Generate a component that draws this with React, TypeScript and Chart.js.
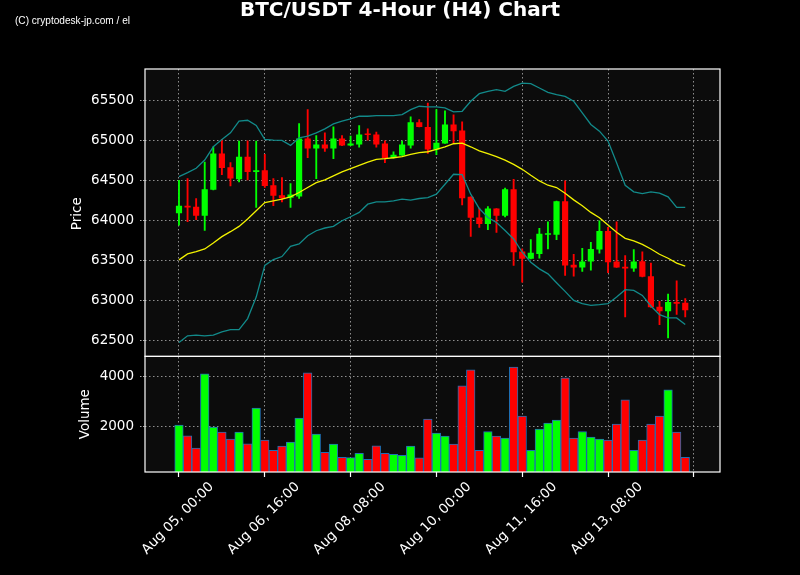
import React, { useEffect, useRef } from 'react';
import { Chart, registerables } from 'chart.js';
Chart.register(...registerables);

const titleText = 'BTC/USDT 4-Hour (H4) Chart';
const watermark = '(C) cryptodesk-jp.com / el';
const xTickLabels = ['Aug 05, 00:00', 'Aug 06, 16:00', 'Aug 08, 08:00', 'Aug 10, 00:00', 'Aug 11, 16:00', 'Aug 13, 08:00', ''];
const priceTicks = [62500, 63000, 63500, 64000, 64500, 65000, 65500];
const volumeTicks = [2000, 4000];

const opens = [64097, 64189, 64176, 64064, 64388, 64844, 64670, 64521, 64803, 64612,
  64633, 64446, 64321, 64288, 64305, 65031, 64907, 64956, 64907, 65031,
  64944, 64956, 65081, 65081, 64969, 64786, 64819, 64944, 65234, 65176,
  64894, 64969, 65206, 65131, 64301, 64043, 63960, 64155, 64064, 64396,
  63616, 63525, 63587, 63828, 63828, 64247, 63450, 63417, 63492, 63641,
  63873, 63492, 63425, 63404, 63496, 63309, 62927, 62869, 62985, 62977];
const highs = [64508, 64529, 64280, 64736, 64927, 65019, 64728, 64998, 65002, 64998,
  64832, 64529, 64541, 64467, 65218, 65392, 65068, 65102, 65176, 65068,
  65060, 65193, 65151, 65110, 65002, 64865, 64998, 65301, 65268, 65475,
  65392, 65376, 65326, 65239, 64301, 64160, 64180, 64155, 64410, 64521,
  63649, 63766, 63906, 63989, 64247, 64500, 63583, 63658, 63732, 64002,
  63919, 63989, 63566, 63641, 63612, 63471, 62994, 63085, 63251, 63027];
const lows = [63948, 63989, 64014, 63881, 64388, 64579, 64438, 64487, 64512, 64168,
  64420, 64189, 64238, 64168, 64280, 64790, 64529, 64870, 64778, 64940,
  64940, 64923, 65010, 64923, 64728, 64786, 64819, 64911, 65176, 64844,
  64828, 64969, 64969, 64201, 63807, 63919, 63890, 63857, 64050, 63442,
  63234, 63525, 63533, 63649, 63766, 63317, 63309, 63367, 63384, 63596,
  63351, 63417, 62798, 63367, 63300, 62919, 62703, 62537, 62831, 62798];
const closes = [64189, 64168, 64064, 64396, 64844, 64662, 64529, 64803, 64612, 64633,
  64438, 64313, 64284, 64330, 65031, 64907, 64956, 64907, 65031, 64944,
  64969, 65081, 65073, 64956, 64786, 64828, 64956, 65234, 65176, 64894,
  64977, 65206, 65122, 64284, 64039, 63960, 64155, 64064, 64396, 63608,
  63525, 63600, 63840, 63840, 64247, 63442, 63417, 63492, 63649, 63873,
  63484, 63417, 63404, 63492, 63300, 62919, 62869, 62985, 62964, 62881];
const volumes = [2068, 1640, 1147, 4107, 1987, 1787, 1507, 1787, 1320, 2747,
  1467, 1067, 1227, 1387, 2347, 4147, 1707, 987, 1307, 787,
  773, 947, 707, 1240, 947, 907, 867, 1227, 760, 2307,
  1747, 1627, 1307, 3627, 4267, 1067, 1813, 1627, 1547, 4373,
  2427, 1067, 1907, 2147, 2267, 3947, 1547, 1813, 1587, 1507,
  1467, 2107, 3067, 1067, 1467, 2107, 2427, 3467, 1787, 787];
const sma = [63512, 63587, 63616, 63649, 63724, 63803, 63865, 63931, 64023, 64126,
  64230, 64251, 64272, 64301, 64355, 64417, 64479, 64512, 64562, 64612,
  64653, 64695, 64736, 64770, 64778, 64790, 64803, 64832, 64853, 64865,
  64894, 64927, 64965, 64973, 64927, 64877, 64840, 64803, 64761, 64707,
  64645, 64570, 64500, 64446, 64417, 64346, 64263, 64189, 64106, 64039,
  63948, 63857, 63782, 63749, 63707, 63649, 63583, 63533, 63471, 63434];
const upperBand = [64554, 64604, 64658, 64761, 64927, 65019, 65102, 65247, 65259, 65193,
  65019, 65010, 65006, 64944, 65040, 65060, 65102, 65151, 65214, 65247,
  65276, 65309, 65309, 65317, 65317, 65317, 65330, 65392, 65434, 65425,
  65425, 65413, 65363, 65371, 65496, 65591, 65620, 65641, 65620, 65683,
  65724, 65716, 65662, 65608, 65579, 65558, 65496, 65351, 65206, 65122,
  64998, 64728, 64446, 64363, 64342, 64363, 64346, 64301, 64168, 64168];
const lowerBand = [62479, 62562, 62570, 62562, 62570, 62612, 62641, 62641, 62778, 63047,
  63442, 63516, 63554, 63682, 63711, 63815, 63877, 63911, 63931, 64002,
  64052, 64106, 64209, 64238, 64238, 64251, 64272, 64259, 64280, 64292,
  64334, 64458, 64583, 64579, 64334, 64155, 64043, 63981, 63880, 63774,
  63608, 63483, 63400, 63338, 63226, 63118, 63006, 62964, 62944, 62952,
  62964, 63047, 63139, 63130, 63068, 62935, 62827, 62786, 62786, 62703];

const FONT = '"DejaVu Sans", sans-serif';
const GRID = 'rgba(175,175,175,0.8)';
const DASH = [1.5, 2.5];

export default function App() {
  const ref = useRef<HTMLCanvasElement>(null);

  useEffect(() => {
    const colors = closes.map((c, i) => (c >= opens[i] ? '#00ff00' : '#ff0000'));
    const toPts = (arr: number[]) => arr.map((v, i) => ({ x: i, y: v }));

    const panelPlugin = {
      id: 'panels',
      beforeDraw(chart: any) {
        const { ctx, chartArea } = chart;
        ctx.save();
        ctx.fillStyle = '#000';
        ctx.fillRect(0, 0, chart.width, chart.height);
        ctx.fillStyle = '#0c0c0c';
        ctx.fillRect(chartArea.left, chartArea.top, chartArea.right - chartArea.left, chartArea.bottom - chartArea.top);
        ctx.restore();
      },
      afterDraw(chart: any) {
        const { ctx, chartArea } = chart;
        const yP = chart.scales.y;
        const yV = chart.scales.yv;
        const xs = chart.scales.x;
        ctx.save();
        // panel frames
        ctx.strokeStyle = '#ffffff';
        ctx.lineWidth = 1.2;
        const l = chartArea.left, r = chartArea.right;
        ctx.strokeRect(l, yP.top, r - l, yP.bottom - yP.top);
        ctx.strokeRect(l, yV.top, r - l, yV.bottom - yV.top);
        // title
        ctx.fillStyle = '#ffffff';
        ctx.textAlign = 'center';
        ctx.textBaseline = 'middle';
        ctx.font = 'bold 20px ' + FONT;
        ctx.fillText(titleText, 400, 11);
        // watermark (narrow)
        ctx.textAlign = 'left';
        ctx.font = '11px "Liberation Sans Narrow", "Liberation Sans", sans-serif';
        const ww = ctx.measureText(watermark).width;
        ctx.save();
        ctx.translate(15, 21);
        ctx.scale(Math.min(1, 115 / ww), 1);
        ctx.fillText(watermark, 0, 0);
        ctx.restore();
        // axis titles
        ctx.font = '13.5px ' + FONT;
        ctx.textAlign = 'center';
        ctx.save();
        ctx.translate(77, (yP.top + yP.bottom) / 2 + 1);
        ctx.rotate(-Math.PI / 2);
        ctx.fillText('Price', 0, 0);
        ctx.restore();
        ctx.save();
        ctx.translate(85, (yV.top + yV.bottom) / 2);
        ctx.rotate(-Math.PI / 2);
        ctx.fillText('Volume', 0, 0);
        ctx.restore();
        // x tick labels, rotated 45deg, centred on tick
        const fs = 13.5;
        ctx.font = fs + 'px ' + FONT;
        xs.ticks.forEach((t: any, k: number) => {
          const label = xTickLabels[k] || '';
          if (!label) return;
          const px = xs.getPixelForValue(t.value);
          const w = ctx.measureText(label).width;
          const s = (w + fs) * Math.SQRT1_2;
          const cy = chartArea.bottom + 8 + s / 2;
          ctx.save();
          ctx.translate(px - 1, cy);
          ctx.rotate(-Math.PI / 4);
          ctx.textAlign = 'center';
          ctx.textBaseline = 'middle';
          ctx.fillText(label, 0, 0);
          ctx.restore();
        });
        ctx.restore();
      },
    };

    const yGrid = {
      color: GRID,
      lineWidth: 1,
      tickLength: 5,
      tickColor: 'rgba(190,190,190,0.9)',
      tickBorderDash: [1.5, 1.5],
    };

    const chart = new Chart(ref.current as HTMLCanvasElement, {
      type: 'bar',
      data: {
        datasets: [
          {
            type: 'line',
            label: 'SMA',
            data: toPts(sma),
            borderColor: '#f2f200',
            borderWidth: 1.3,
            pointRadius: 0,
            xAxisID: 'x',
            yAxisID: 'y',
            order: 0,
          } as any,
          {
            type: 'line',
            label: 'Upper',
            data: toPts(upperBand),
            borderColor: '#128a8a',
            borderWidth: 1.3,
            pointRadius: 0,
            xAxisID: 'x',
            yAxisID: 'y',
            order: 0,
          } as any,
          {
            type: 'line',
            label: 'Lower',
            data: toPts(lowerBand),
            borderColor: '#128a8a',
            borderWidth: 1.3,
            pointRadius: 0,
            xAxisID: 'x',
            yAxisID: 'y',
            order: 0,
          } as any,
          {
            type: 'bar',
            label: 'Body',
            data: opens.map((o, i) => ({ x: i, y: [o, closes[i]] })),
            backgroundColor: colors,
            borderWidth: 0,
            barPercentage: 0.72,
            categoryPercentage: 1,
            grouped: false,
            minBarLength: 1.5,
            xAxisID: 'x',
            yAxisID: 'y',
            order: 1,
          } as any,
          {
            type: 'bar',
            label: 'Wick',
            data: lows.map((lo, i) => ({ x: i, y: [lo, highs[i]] })),
            backgroundColor: colors,
            borderWidth: 0,
            barThickness: 1.2,
            grouped: false,
            xAxisID: 'x',
            yAxisID: 'y',
            order: 2,
          } as any,
          {
            type: 'bar',
            label: 'Volume',
            data: toPts(volumes),
            backgroundColor: colors,
            borderColor: '#1f6fb4',
            borderWidth: 1,
            borderSkipped: false,
            barPercentage: 1,
            categoryPercentage: 1,
            grouped: false,
            xAxisID: 'x',
            yAxisID: 'yv',
            order: 3,
          } as any,
        ],
      },
      options: {
        responsive: false,
        animation: false,
        events: [],
        layout: { padding: { left: 0, right: 80, top: 69, bottom: 0 } },
        plugins: { legend: { display: false }, tooltip: { enabled: false }, title: { display: false } },
        scales: {
          x: {
            type: 'linear',
            position: 'bottom',
            offset: false,
            min: -3.96,
            max: 63.05,
            afterBuildTicks: (s: any) => {
              s.ticks = xTickLabels.map((_, k) => ({ value: k * 10 }));
            },
            afterFit: (s: any) => {
              s.height = 103;
            },
            ticks: { display: false },
            grid: {
              color: GRID,
              lineWidth: 1,
              offset: false,
              drawTicks: true,
              tickLength: 5,
              tickColor: '#ffffff',
              tickBorderDash: [],
              tickWidth: 1.2,
            } as any,
            border: { display: false, dash: DASH },
          },
          yv: {
            type: 'linear',
            position: 'left',
            stack: 'panels',
            stackWeight: 1,
            min: 200,
            max: 4800,
            afterBuildTicks: (s: any) => {
              s.ticks = volumeTicks.map((v) => ({ value: v }));
            },
            afterFit: (s: any) => {
              s.width = 145;
            },
            ticks: {
              color: '#ffffff',
              font: { family: FONT, size: 13.5 },
              padding: 6,
              callback: (v: any) => String(v),
            },
            grid: yGrid as any,
            border: { display: false, dash: DASH },
          },
          y: {
            type: 'linear',
            position: 'left',
            stack: 'panels',
            stackWeight: 2.486,
            min: 62305,
            max: 65900,
            afterBuildTicks: (s: any) => {
              s.ticks = priceTicks.map((v) => ({ value: v }));
            },
            afterFit: (s: any) => {
              s.width = 145;
            },
            ticks: {
              color: '#ffffff',
              font: { family: FONT, size: 13.5 },
              padding: 6,
              callback: (v: any) => String(v),
            },
            grid: yGrid as any,
            border: { display: false, dash: DASH },
          },
        },
      } as any,
      plugins: [panelPlugin],
    });
    return () => chart.destroy();
  }, []);

  return (
    <div style={{ position: 'fixed', left: 0, top: 0, width: 800, height: 575, background: '#000' }}>
      <canvas ref={ref} width={800} height={575} style={{ display: 'block', width: 800, height: 575 }} />
    </div>
  );
}
